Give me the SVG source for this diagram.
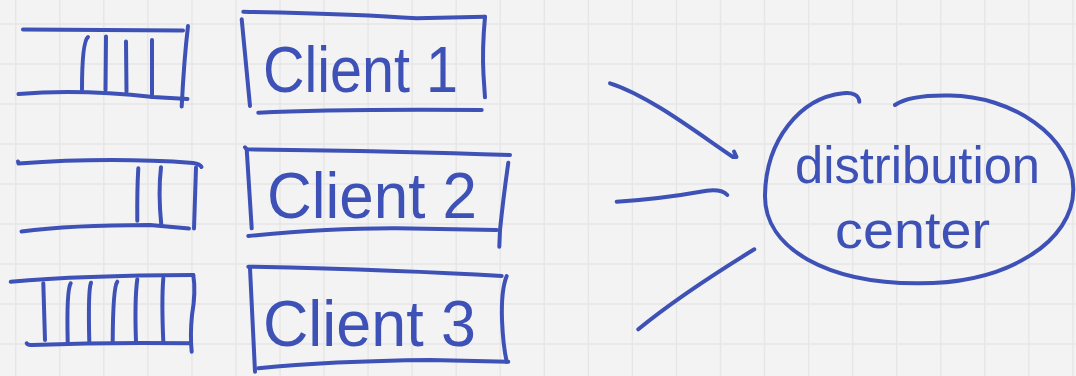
<svg xmlns="http://www.w3.org/2000/svg" width="1076" height="376" viewBox="0 0 1076 376">
  <style>
    .grid { stroke: #e6e6e6; stroke-width: 1.4; fill: none; }
    .ink { stroke: #3d51b6; stroke-width: 4; fill: none; stroke-linecap: round; stroke-linejoin: round; }
    .label { fill: #3d51b6; font-family: "Liberation Sans", Arial, sans-serif; }
    .client { font-size: 64px; }
    .hub { font-size: 52px; }
  </style>

  <!-- paper background with square grid -->
  <rect width="1076" height="376" fill="#f3f3f3"/>
  <path class="grid" d="
    M15.7,0V376 M59.75,0V376 M103.8,0V376 M147.85,0V376 M191.9,0V376 M235.95,0V376
    M280,0V376 M324.05,0V376 M368.1,0V376 M412.15,0V376 M456.2,0V376 M500.25,0V376
    M544.3,0V376 M588.35,0V376 M632.4,0V376 M676.45,0V376 M720.5,0V376 M764.55,0V376
    M808.6,0V376 M852.65,0V376 M896.7,0V376 M940.75,0V376 M984.8,0V376 M1028.85,0V376 M1072.9,0V376
    M0,24H1076 M0,64H1076 M0,104H1076 M0,144H1076 M0,184H1076 M0,224H1076 M0,264H1076 M0,304H1076 M0,344H1076"/>

  <!-- queue in front of client 1: four waiting items -->
  <g id="queue-1" class="ink">
    <path d="M23,29.5 L183,30.5"/>
    <path d="M188,26 Q184,60 181.7,106.5"/>
    <path d="M18.5,94 Q80,89 153,97 L187.5,99"/>
    <path d="M88,37 Q82,42 82,89.5"/>
    <path d="M106,36.5 L105.5,90"/>
    <path d="M126,41.5 L126.5,91.5"/>
    <path d="M152,40 L152,97"/>
  </g>

  <!-- queue in front of client 2: two waiting items -->
  <g id="queue-2" class="ink">
    <path d="M18,161.5 L18.5,163.5 Q110,157 193,163 Q200,164 201.5,167"/>
    <path d="M196,167.5 L194,228.5"/>
    <path d="M21.5,231.5 Q70,225 150,225 L189,228.5"/>
    <path d="M138.3,168.3 Q137,190 137.3,220.7"/>
    <path d="M161,167.3 Q158,193 161.3,225"/>
  </g>

  <!-- queue in front of client 3: six waiting items -->
  <g id="queue-3" class="ink">
    <path d="M10.7,281.7 Q80,275.5 193.3,275"/>
    <path d="M193.3,275 Q196,292 192,315 Q190,335 191.7,351.7"/>
    <path d="M26.7,343.3 Q28,345.5 32,345 Q110,342 190,343.3"/>
    <path d="M43.3,283.3 L45,340"/>
    <path d="M70.7,283.3 Q66.5,290 67.7,341.7"/>
    <path d="M91,282.7 Q88,290 89.3,341.7"/>
    <path d="M117.3,281.7 Q113,287 112.7,341.7"/>
    <path d="M137.3,279.3 Q134.5,300 136,341.7"/>
    <path d="M163.3,278.3 Q161.5,300 163.3,341.7"/>
  </g>

  <g id="client-1">
    <g class="ink">
      <path d="M243.3,11.7 Q360,14 416.7,18.3 L485,16.7"/>
      <path d="M241.7,19.3 Q246,66 250,106"/>
      <path d="M485,16.7 Q482,50 483.5,75 L485,97.3"/>
      <path d="M258.3,112.7 Q330,109 481.7,110"/>
    </g>
    <text class="label client" x="263" y="92" textLength="195" lengthAdjust="spacingAndGlyphs">Client 1</text>
  </g>

  <g id="client-2">
    <g class="ink">
      <path d="M245,147.3 L246.7,149.3 Q400,151 510,155"/>
      <path d="M246.7,149.3 L251.7,228.3"/>
      <path d="M508.3,162.7 Q503,200 500,230 L499.3,246.7"/>
      <path d="M248.3,236 Q330,228 396.7,228.3 L496.7,230"/>
    </g>
    <text class="label client" x="267" y="218" textLength="210" lengthAdjust="spacingAndGlyphs">Client 2</text>
  </g>

  <g id="client-3">
    <g class="ink">
      <path d="M248.3,266.7 Q400,270 501.7,276"/>
      <path d="M250,268.3 L255,371.7"/>
      <path d="M506.7,276 Q501,290 502,320 Q503,345 506.7,361.7"/>
      <path d="M258.3,368.3 Q330,361 430,360 L508.3,361.7"/>
    </g>
    <text class="label client" x="263" y="346" textLength="213" lengthAdjust="spacingAndGlyphs">Client 3</text>
  </g>

  <!-- strokes leading toward the distribution center -->
  <g id="connectors" class="ink">
    <path d="M610,83.3 C650,96 700,135 733,157 L736.5,157 L734,151.5"/>
    <path d="M616.7,201.7 Q660,199 706.7,190.7 Q722,189 727.3,195"/>
    <path d="M638.3,329.3 Q680,295 754.3,249.3"/>
  </g>

  <g id="distribution-center">
    <path class="ink" d="M859.3,101.7 C859,95 852,92 843,93.3 C800,98 766,140 765,195 C764,250 830,283 916.7,283.3 C1010,284 1073,240 1073.3,190 C1074,135 1010,96 950,95.5 C925,95 905,98 895,105"/>
    <text class="label hub" x="795" y="183" textLength="245" lengthAdjust="spacingAndGlyphs">distribution</text>
    <text class="label hub" x="835" y="248" textLength="155" lengthAdjust="spacingAndGlyphs">center</text>
  </g>
</svg>
